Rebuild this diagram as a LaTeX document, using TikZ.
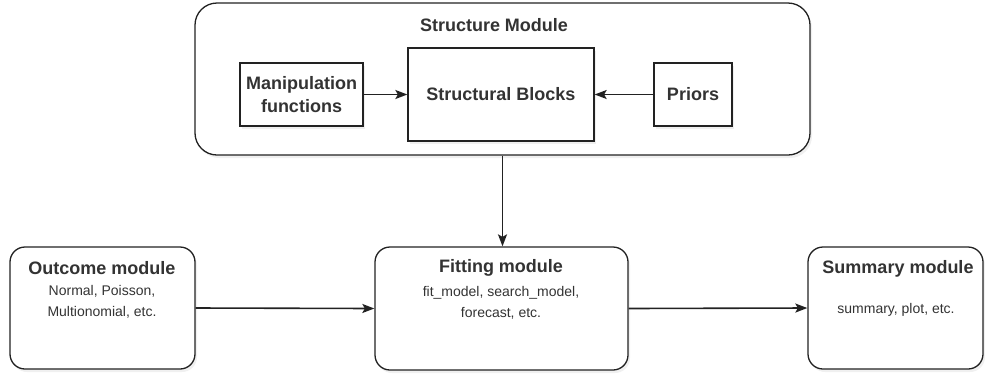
\documentclass[tikz,border=0pt]{standalone}
\usepackage{fontspec}
\setmainfont{Liberation Sans}
\usetikzlibrary{arrows.meta,shadows}
\definecolor{ink}{HTML}{222222}
\definecolor{txt}{HTML}{333333}
\tikzset{
  box/.style={draw=ink, line width=1.3pt, fill=white, inner sep=0pt,
    drop shadow={opacity=0.12, shadow xshift=2pt, shadow yshift=-3pt}},
  rbox/.style={box, rounded corners=15pt},
  head/.style={font=\fontsize{18}{23}\selectfont\bfseries, text=txt, align=center},
  small/.style={font=\fontsize{14}{21}\selectfont, text=txt, align=center},
  conn/.style={draw=ink, line width=1.6pt, -{Stealth[length=12pt,width=9pt,inset=2.5pt]}}
}
\begin{document}
\begin{tikzpicture}[x=1pt,y=-1pt]
\useasboundingbox (0,0) rectangle (985,376);
% structure module
\node[box, rounded corners=22pt, minimum width=615pt, minimum height=152pt] (struct) at (502.5,79) {};
\node[head] (stitle) at (494,25) {Structure Module};
\node[box, minimum width=123pt, minimum height=63pt, head] (manip) at (301.5,94.5) {Manipulation\\functions};
\node[box, minimum width=186pt, minimum height=93pt, head] (blocks) at (501,94.5) {Structural Blocks};
\node[box, minimum width=78pt, minimum height=63pt, head] (priors) at (693,94.5) {Priors};
% lower modules
\node[rbox, minimum width=185pt, minimum height=122pt] (outcome) at (102.5,308) {};
\node[head] (otitle) at (102,268) {Outcome module};
\node[small] (otext) at (102,302) {Normal, Poisson,\\Multionomial, etc.};
\node[rbox, minimum width=253pt, minimum height=123pt] (fitting) at (501.5,308.5) {};
\node[head] (ftitle) at (501,268) {Fitting module};
\node[small] (ftext) at (501,303) {fit\_model, search\_model,\\forecast, etc.};
\node[rbox, minimum width=175pt, minimum height=122pt] (summary) at (895.5,308) {};
\node[head] (sumtitle) at (898,269) {Summary module};
\node[small] (sumtext) at (896,310) {summary, plot, etc.};
% connectors
\draw[conn] (manip.east) -- (blocks.west);
\draw[conn] (priors.west) -- (blocks.east);
\draw[conn] (struct.south) -- (struct.south |- fitting.north);
\draw[conn] (outcome.east) -- (fitting.west);
\draw[conn] (fitting.east) -- (summary.west);
\end{tikzpicture}
\end{document}
